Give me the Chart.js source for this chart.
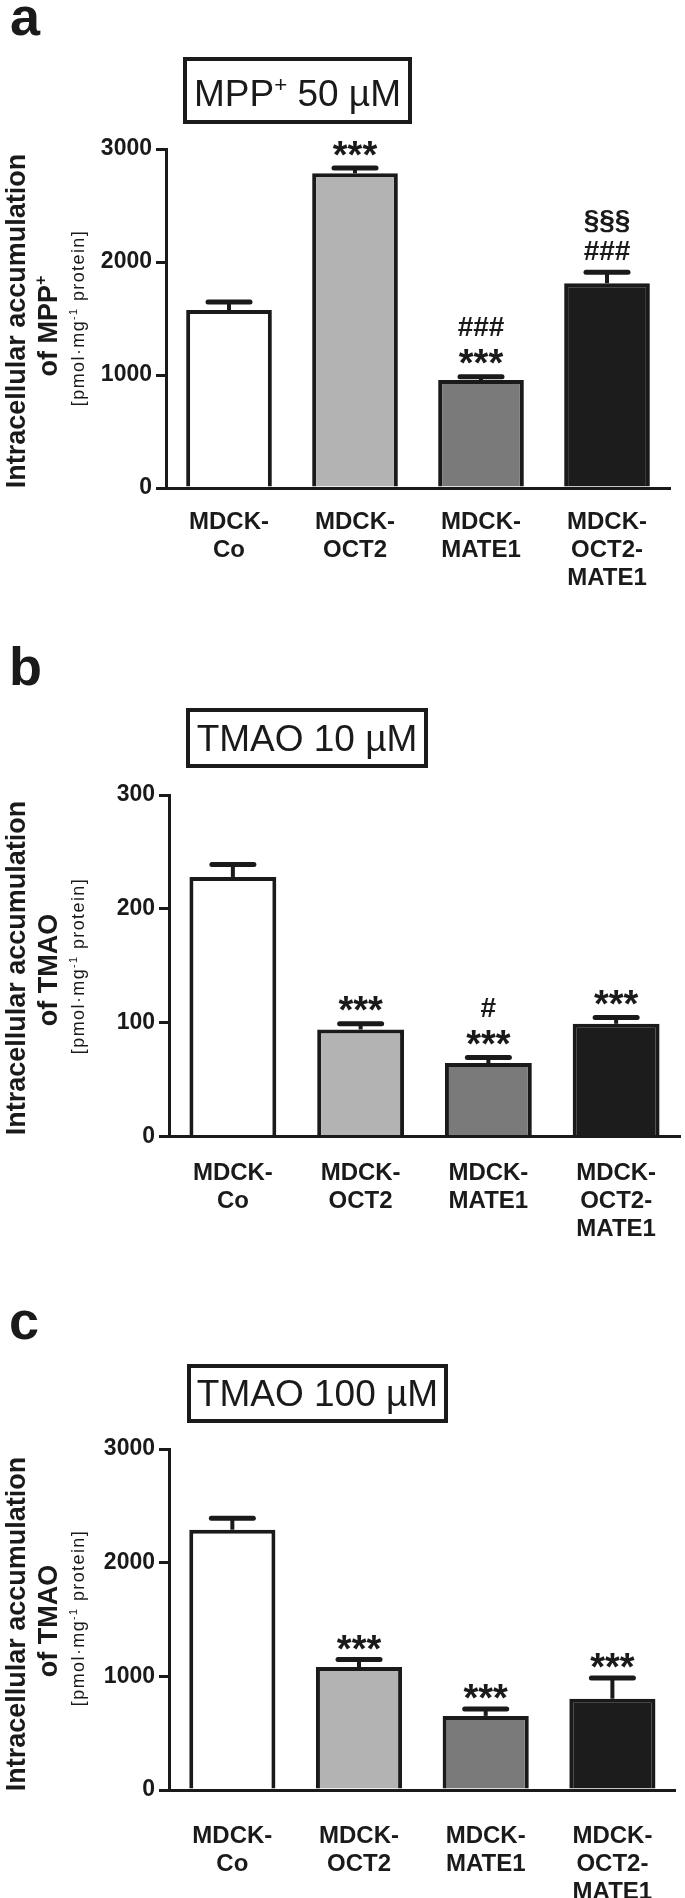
<!DOCTYPE html>
<html>
<head>
<meta charset="utf-8">
<script src="https://cdn.jsdelivr.net/npm/chart.js@4.4.1/dist/chart.umd.min.js"></script>
<style>
  html, body { margin:0; padding:0; background:#fff; }
  #wrap { position:relative; width:685px; height:1898px; overflow:hidden; font-family:"Liberation Sans", Arial, sans-serif; color:#1a1a1a; }
  canvas { position:absolute; left:0; display:block; }
  .letter { position:absolute; font-size:54px; font-weight:bold; line-height:1; }
  .tbox { position:absolute; box-sizing:border-box; border:4px solid #1a1a1a; }
  .ttext { position:absolute; text-align:center; font-size:37px; line-height:1; white-space:nowrap; }
  .yl { position:absolute; white-space:nowrap; line-height:1; transform:translate(-50%,-50%) rotate(-90deg); }
  .big { font-size:27px; font-weight:bold; }
  .small { font-size:18px; letter-spacing:1.4px; }
  .sp { font-size:0.6em; position:relative; top:-0.65em; }
</style>
</head>
<body>
<div id="wrap">
  <canvas id="cA" width="685" height="620" style="top:0px"></canvas>
  <canvas id="cB" width="685" height="640" style="top:620px"></canvas>
  <canvas id="cC" width="685" height="638" style="top:1260px"></canvas>

  <div class="letter" style="left:10px;top:-11px">a</div>
  <div class="tbox" style="left:183px;top:57px;width:229px;height:67px"></div>
  <div class="ttext" style="left:183px;width:229px;top:75px">MPP<span class="sp">+</span> 50 µM</div>
  <div class="yl big" style="left:15.6px;top:321px">Intracellular accumulation</div>
  <div class="yl big" style="left:48px;top:326px">of MPP<span class="sp">+</span></div>
  <div class="yl small" style="left:78px;top:318px">[pmol·mg<span class="sp">-1</span> protein]</div>

  <div class="letter" style="left:9px;top:639px">b</div>
  <div class="tbox" style="left:186px;top:708px;width:242px;height:60px"></div>
  <div class="ttext" style="left:186px;width:242px;top:720px">TMAO 10 µM</div>
  <div class="yl big" style="left:15.6px;top:968px">Intracellular accumulation</div>
  <div class="yl big" style="left:48px;top:970px">of TMAO</div>
  <div class="yl small" style="left:78px;top:966px">[pmol·mg<span class="sp">-1</span> protein]</div>

  <div class="letter" style="left:9px;top:1293px">c</div>
  <div class="tbox" style="left:187px;top:1364px;width:261px;height:59px"></div>
  <div class="ttext" style="left:187px;width:261px;top:1375px">TMAO 100 µM</div>
  <div class="yl big" style="left:15.6px;top:1624px">Intracellular accumulation</div>
  <div class="yl big" style="left:48px;top:1621px">of TMAO</div>
  <div class="yl small" style="left:78px;top:1618px">[pmol·mg<span class="sp">-1</span> protein]</div>
</div>

<script>
// cell lines (x categories)
const categories = [['MDCK-','Co'], ['MDCK-','OCT2'], ['MDCK-','MATE1'], ['MDCK-','OCT2-','MATE1']];
const barColors = ['#ffffff', '#b3b3b3', '#7a7a7a', '#1c1c1c'];

// a: MPP+ 50 uM
const mppMean = [1575, 2785, 955, 1812];
const mppSem  = [72, 46, 30, 98];
const mppMarks = [[], ['***'], ['***', '###'], ['###', '§§§']];
const mppTicks = [0, 1000, 2000, 3000];

// b: TMAO 10 uM
const tmao10Mean = [228, 94, 64.5, 99];
const tmao10Sem  = [11, 5, 4.8, 5.5];
const tmao10Marks = [[], ['***'], ['***', '#'], ['***']];
const tmao10Ticks = [0, 100, 200, 300];

// c: TMAO 100 uM
const tmao100Mean = [2290, 1082, 652, 803];
const tmao100Sem  = [100, 65, 61, 183];
const tmao100Marks = [[], ['***'], ['***'], ['***']];
const tmao100Ticks = [0, 1000, 2000, 3000];

const INK = '#1a1a1a';
const FONT = '"Liberation Sans", Arial, sans-serif';

function errorPlugin(means, sems, marks, gap){
  return {
    id: 'errs',
    afterDatasetsDraw(chart){
      const ctx = chart.ctx, y = chart.scales.y;
      const meta = chart.getDatasetMeta(0);
      meta.data.forEach((bar, i) => {
        const top = y.getPixelForValue(means[i] + sems[i]);
        const base = y.getPixelForValue(means[i]);
        ctx.save();
        ctx.strokeStyle = INK;
        ctx.lineWidth = 4;
        ctx.beginPath(); ctx.moveTo(bar.x, base); ctx.lineTo(bar.x, top); ctx.stroke();
        ctx.lineWidth = 5; ctx.lineCap = 'round';
        ctx.beginPath(); ctx.moveTo(bar.x - 21, top); ctx.lineTo(bar.x + 21, top); ctx.stroke();
        // significance marks, bottom line first
        ctx.fillStyle = INK; ctx.textAlign = 'center'; ctx.textBaseline = 'alphabetic';
        (marks[i] || []).forEach((m, k) => {
          const c = top - gap - k * 29;
          let size = 28, off = 10;
          if (m.indexOf('*') >= 0){ size = 38; off = 21.5; }
          else if (m.indexOf('§') >= 0){ off = 7.5; }
          ctx.font = 'bold ' + size + 'px ' + FONT;
          ctx.fillText(m, bar.x, c + off);
        });
        ctx.restore();
      });
    }
  };
}

function makeChart(id, lay, means, sems, marks, ticks){
  const canvas = document.getElementById(id);
  const H = canvas.height;
  return new Chart(canvas, {
    type: 'bar',
    data: {
      labels: categories,
      datasets: [{
        data: means,
        backgroundColor: barColors,
        borderColor: INK,
        borderWidth: 4,
        barPercentage: 0.68,
        categoryPercentage: 1
      }]
    },
    options: {
      responsive: false,
      animation: false,
      events: [],
      layout: { padding: { top: lay.top, left: 0, right: 685 - lay.right, bottom: 0 } },
      plugins: { legend: { display: false }, tooltip: { enabled: false } },
      scales: {
        x: {
          grid: { display: false, drawTicks: false },
          border: { display: true, width: 3, color: INK },
          ticks: {
            autoSkip: false, maxRotation: 0, minRotation: 0,
            padding: lay.xPad, color: INK,
            font: { family: FONT, size: 24, weight: 'bold', lineHeight: 1.18 }
          },
          afterFit: s => { s.height = H - lay.bottom; }
        },
        y: {
          min: ticks[0], max: ticks[ticks.length - 1],
          grid: { display: true, drawOnChartArea: false, drawTicks: true, tickLength: 10, lineWidth: 3, color: INK },
          border: { display: true, width: 3, color: INK },
          ticks: {
            stepSize: ticks[1] - ticks[0], padding: 4, color: INK,
            font: { family: FONT, size: 23, weight: 'bold' },
            callback: v => String(v)
          },
          afterFit: s => { s.width = lay.left; }
        }
      }
    },
    plugins: [errorPlugin(means, sems, marks, lay.gap)]
  });
}

makeChart('cA', { top:149, bottom:488, left:166, right:670, xPad:20, gap:22 }, mppMean, mppSem, mppMarks, mppTicks);
makeChart('cB', { top:175, bottom:516.5, left:169, right:680, xPad:22.5, gap:22 }, tmao10Mean, tmao10Sem, tmao10Marks, tmao10Ticks);
makeChart('cC', { top:189, bottom:530, left:169, right:680, xPad:32, gap:19 }, tmao100Mean, tmao100Sem, tmao100Marks, tmao100Ticks);
</script>
</body>
</html>
